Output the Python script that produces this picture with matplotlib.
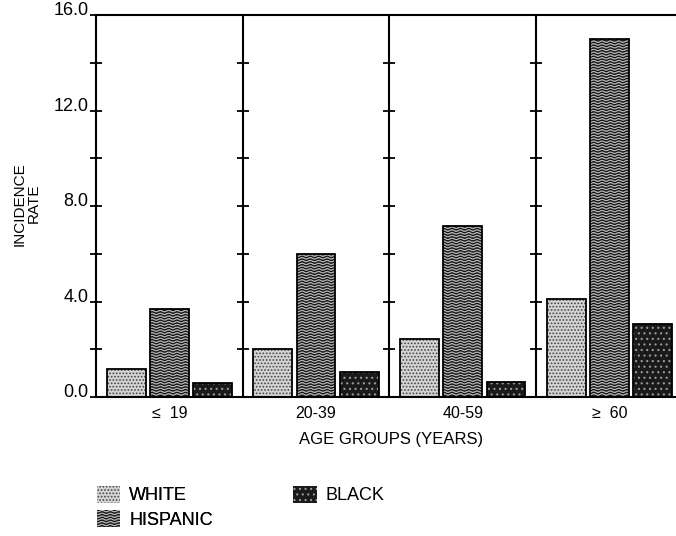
import matplotlib.pyplot as plt
from matplotlib.patches import Patch
from matplotlib.path import Path
import matplotlib.hatch as mhatch
import numpy as np

plt.rcParams['font.family'] = ['Liberation Sans', 'DejaVu Sans']
plt.rcParams['hatch.linewidth'] = 0.8


# wavy lines instead of straight ones for the '-' hatch
class WavyHatch(mhatch.HatchPatternBase):
    pts = 97

    def __init__(self, hatch, density):
        self.num_lines = int(hatch.count('-') * density)
        self.num_vertices = self.num_lines * self.pts

    def set_vertices_and_codes(self, vertices, codes):
        steps, stepsize = np.linspace(0.0, 1.0, self.num_lines, False, retstep=True)
        steps += stepsize / 2.
        xs = np.linspace(0.0, 1.0, self.pts)
        wave = 0.3 * stepsize * np.sin(2 * np.pi * 12 * xs)
        for i, s in enumerate(steps):
            sl = slice(i * self.pts, (i + 1) * self.pts)
            vertices[sl, 0] = xs
            vertices[sl, 1] = s + wave
            codes[sl] = Path.LINETO
            codes[i * self.pts] = Path.MOVETO


mhatch._hatch_types = [WavyHatch if t is mhatch.HorizontalHatch else t
                       for t in mhatch._hatch_types]

groups = ['\u2264  19', '20-39', '40-59', '\u2265  60']
white = [1.2, 2.0, 2.45, 4.1]
hispanic = [3.7, 6.0, 7.15, 15.0]
black = [0.6, 1.05, 0.65, 3.05]
series_names = ['WHITE', 'HISPANIC', 'BLACK']

# (facecolor, hatch colour, hatch)
styles = [('#d4d4d4', '#444444', '.....'),
          ('#b4b4b4', '#111111', '------'),
          ('#1a1a1a', '#9a9a9a', '...')]

fig = plt.figure(figsize=(6.76, 5.36), dpi=100)
ax = fig.add_axes([0.142, 0.259, 0.868, 0.713])

x = np.arange(len(groups)) + 0.5
offsets = [-0.295, 0.0, 0.295]
width = 0.265
for vals, off, (fc, hc, h) in zip([white, hispanic, black], offsets, styles):
    ax.bar(x + off, vals, width, facecolor=fc, edgecolor=hc, hatch=h, linewidth=0, zorder=2)
    ax.bar(x + off, vals, width, fill=False, edgecolor='black', linewidth=1.3, zorder=3)

ax.set_xlim(0, 4)
ax.set_ylim(0, 16)

# group separators with cross ticks
yt = np.arange(0, 17, 2)
for sx in [1, 2, 3]:
    ax.axvline(sx, color='black', lw=1.5, zorder=4)
    ax.plot([sx] * len(yt), yt, ls='none', marker='_', ms=8, mew=1.3, color='black', zorder=4)

for s in ['left', 'bottom', 'top']:
    ax.spines[s].set_linewidth(1.5)
ax.spines['right'].set_visible(False)

ax.set_yticks([0, 4, 8, 12, 16])
ax.set_yticks(yt, minor=True)
ax.set_yticklabels([])
ax.tick_params(axis='y', which='both', direction='inout', length=8, width=1.3)
for v in [0, 4, 8, 12, 16]:
    ax.text(-0.013, v, '%.1f' % v, ha='right', va='baseline', fontsize=13,
            transform=ax.get_yaxis_transform(), clip_on=False)

ax.set_xticks(x)
ax.set_xticklabels(groups, fontsize=11.5)
ax.tick_params(axis='x', length=0, pad=6)
ax.set_xlabel('AGE GROUPS (YEARS)', fontsize=12)
ax.xaxis.set_label_coords(0.503, -0.092)

fig.text(0.04, 0.62, 'INCIDENCE\nRATE', rotation=90, ha='center', va='center',
         fontsize=11, linespacing=1.0)

handles = [Patch(facecolor=fc, edgecolor=hc, hatch=h, linewidth=0) for fc, hc, h in styles]
leg_kw = dict(frameon=False, fontsize=13, handlelength=1.3, handleheight=1.1,
              labelspacing=0.3, handletextpad=0.5, borderaxespad=0, borderpad=0)
leg1 = fig.legend(handles[:2], series_names[:2], loc='upper left',
                  bbox_to_anchor=(0.143, 0.094), **leg_kw)
fig.add_artist(leg1)
fig.legend(handles[2:], series_names[2:], loc='upper left',
           bbox_to_anchor=(0.434, 0.094), **leg_kw)

fig.savefig('out.png', dpi=100)
